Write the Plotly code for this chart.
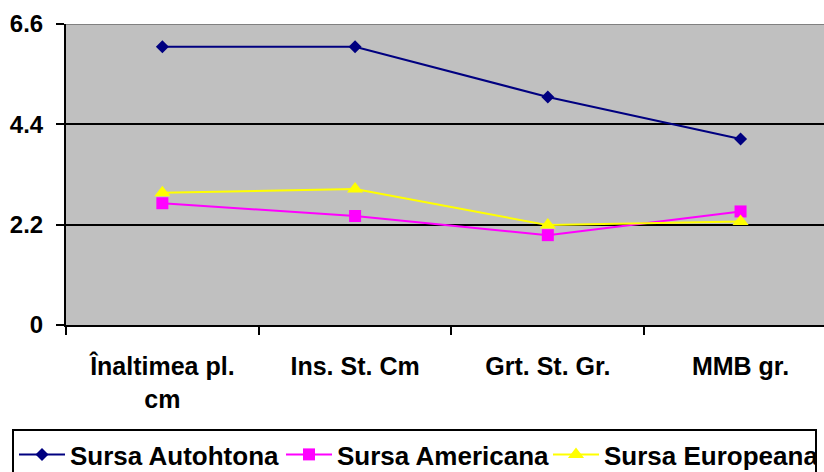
import plotly.graph_objects as go

categories = ["Înaltimea pl.<br>cm", "Ins. St. Cm", "Grt. St. Gr.", "MMB gr."]
sursa_autohtona = [6.1, 6.1, 5.0, 4.08]
sursa_americana = [2.67, 2.39, 1.97, 2.49]
sursa_europeana = [2.9, 2.98, 2.19, 2.27]
y_ticks = [0, 2.2, 4.4, 6.6]

FONT = "Liberation Sans, Arial, sans-serif"

fig = go.Figure()
fig.add_trace(go.Scatter(
    x=categories, y=sursa_autohtona, name="Sursa Autohtona", mode="lines+markers",
    line=dict(color="#000080", width=2),
    marker=dict(symbol="diamond", size=10, color="#000080"),
))
fig.add_trace(go.Scatter(
    x=categories, y=sursa_americana, name="Sursa Americana", mode="lines+markers",
    line=dict(color="#FF00FF", width=2),
    marker=dict(symbol="square", size=12, color="#FF00FF"),
))
fig.add_trace(go.Scatter(
    x=categories, y=sursa_europeana, name="Sursa Europeana", mode="lines+markers",
    line=dict(color="#FFFF00", width=2),
    marker=dict(symbol="triangle-up", size=14, color="#FFFF00"),
))

# top border of plot area
fig.add_shape(type="line", xref="paper", yref="y", x0=0, x1=1, y0=6.6, y1=6.6,
              line=dict(color="#808080", width=2), layer="above")

L, T, B = 66, 24, 147
PW, PH = 824 - L, 472 - T - B

fig.update_layout(
    width=824, height=472,
    margin=dict(l=L, r=0, t=T, b=B, autoexpand=False),
    paper_bgcolor="white",
    plot_bgcolor="#C0C0C0",
    font=dict(family=FONT, size=25, color="black", weight="bold"),
    showlegend=True,
    legend=dict(
        orientation="h", xref="paper", yref="paper",
        x=(12 - L) / PW, y=-(429 - (T + PH)) / PH, xanchor="left", yanchor="top",
        bordercolor="black", borderwidth=2, bgcolor="white",
        itemwidth=46, entrywidth=206, entrywidthmode="pixels",
        font=dict(family=FONT, size=26, color="black", weight="bold"),
        traceorder="normal",
    ),
    xaxis=dict(
        type="category", range=[-0.5, 3.433],
        showline=True, linecolor="black", linewidth=2,
        ticks="outside", tickson="boundaries", ticklen=8, tickwidth=2, tickcolor="black",
        showgrid=False, zeroline=False,
        ticklabelstandoff=18,
        tickfont=dict(family=FONT, size=25, color="black", weight="bold"),
    ),
    yaxis=dict(
        range=[0, 6.6], tickvals=y_ticks, ticktext=["0", "2.2", "4.4", "6.6"],
        showline=True, linecolor="black", linewidth=2,
        ticks="outside", ticklen=8, tickwidth=2, tickcolor="black",
        showgrid=True, gridcolor="black", gridwidth=2, zeroline=False,
        ticklabelstandoff=8,
        tickfont=dict(family=FONT, size=24, color="black", weight="bold"),
    ),
)

fig.write_html("out.html")
